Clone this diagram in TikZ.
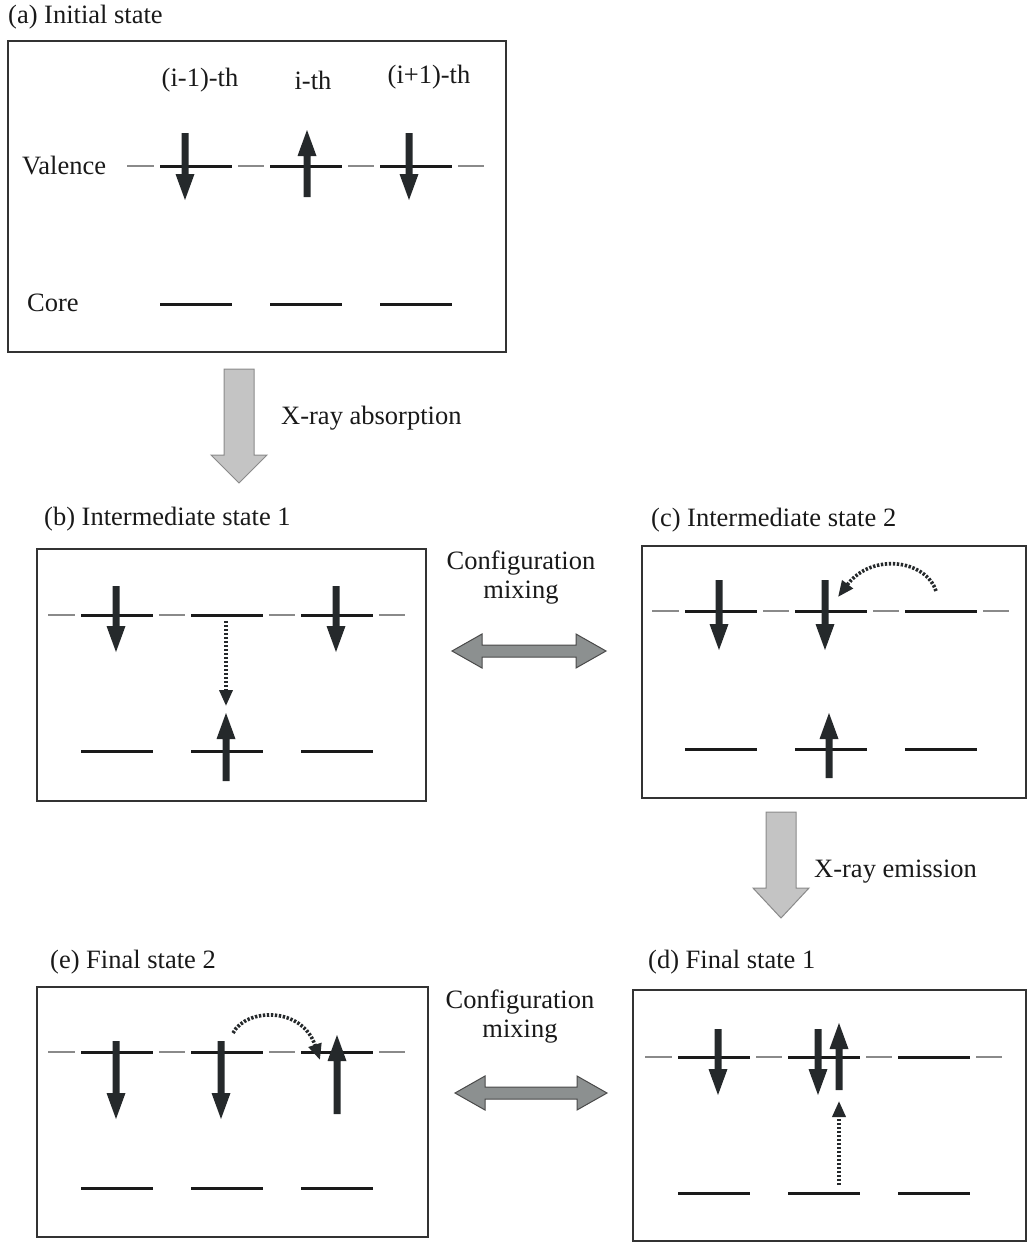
\documentclass[tikz,border=0pt]{standalone}
\usepackage{fontspec}
\setmainfont{Liberation Serif}
\newfontfamily\tnr{Liberation Serif}
\usetikzlibrary{arrows.meta}
\definecolor{spinc}{HTML}{25292B}
\definecolor{levc}{HTML}{1A1A1A}
\definecolor{dashc}{HTML}{8A8A8A}
\definecolor{boxc}{HTML}{333333}
\definecolor{lightblk}{HTML}{C4C4C4}
\definecolor{lightbdr}{HTML}{8A8A8A}
\definecolor{darkblk}{HTML}{8C9090}
\definecolor{darkbdr}{HTML}{4A4A4A}
\tikzset{
  gdash/.style={draw=dashc, line width=1.3pt},
  lev/.style={draw=levc, line width=3pt},
  panel/.style={draw=boxc, line width=1.3pt},
  hop/.style={draw=spinc, line width=3.6pt, dash pattern=on 2.4pt off 1.6pt, -{Triangle[length=16pt,width=13pt]}},
  title/.style={anchor=west},
}
\newcommand\spindown[3]{\fill[spinc] (#1-3.5,#2) -- (#1+3.5,#2) -- (#1+3.5,#3-26) -- (#1+9.5,#3-26) -- (#1,#3) -- (#1-9.5,#3-26) -- (#1-3.5,#3-26) -- cycle;}
\newcommand\spinup[3]{\fill[spinc] (#1-3.5,#2) -- (#1+3.5,#2) -- (#1+3.5,#3+26) -- (#1+9.5,#3+26) -- (#1,#3) -- (#1-9.5,#3+26) -- (#1-3.5,#3+26) -- cycle;}
\newcommand\valrow[2]{%
  \draw[gdash] (#1,#2) -- (#1+27,#2);
  \draw[lev] (#1+33,#2) -- (#1+105,#2);
  \draw[gdash] (#1+111,#2) -- (#1+137,#2);
  \draw[lev] (#1+143,#2) -- (#1+215,#2);
  \draw[gdash] (#1+221,#2) -- (#1+247,#2);
  \draw[lev] (#1+253,#2) -- (#1+325,#2);
  \draw[gdash] (#1+331,#2) -- (#1+357,#2);}
\newcommand\corerow[2]{%
  \draw[lev] (#1+33,#2) -- (#1+105,#2);
  \draw[lev] (#1+143,#2) -- (#1+215,#2);
  \draw[lev] (#1+253,#2) -- (#1+325,#2);}
\newcommand\blockdown[4]{% cx, top, base, tip
  \filldraw[fill=lightblk, draw=lightbdr, line width=1pt]
    (#1-15,#2) -- (#1+15,#2) -- (#1+15,#3) -- (#1+28,#3) -- (#1,#4) -- (#1-28,#3) -- (#1-15,#3) -- cycle;}
\newcommand\dblarrow[3]{% xl, xr, y
  \filldraw[fill=darkblk, draw=darkbdr, line width=1pt]
    (#1,#3) -- (#1+30,#3-17) -- (#1+30,#3-6) -- (#2-30,#3-6) -- (#2-30,#3-17) -- (#2,#3)
    -- (#2-30,#3+17) -- (#2-30,#3+6) -- (#1+30,#3+6) -- (#1+30,#3+17) -- cycle;}
\begin{document}
\begin{tikzpicture}[x=1pt,y=-1pt,
  every node/.style={font=\tnr\fontsize{26.5}{31}\selectfont, inner sep=0pt, text=black!90}]
\useasboundingbox (0,0) rectangle (1029,1247);

% ---------------- (a) Initial state
\node[title] (ta) at (8,17) {(a) Initial state};
\draw[panel] (8,41) rectangle (506,352);
\node (c1) at (200,80) {(i-1)-th};
\node (c2) at (313,80) {i-th};
\node (c3) at (429,77) {(i+1)-th};
\node[anchor=west] (lv) at (22,166) {Valence};
\node[anchor=west] (lc) at (27,303) {Core};
\valrow{127}{166}
\corerow{127}{304}
\spindown{185}{133}{200}
\spinup{307}{197}{130}
\spindown{409}{133}{200}

% arrow a -> b
\blockdown{239}{369}{455}{483}
\node[anchor=west] (xa) at (281,418) {X-ray absorption};

% ---------------- (b) Intermediate state 1
\node[title] (tb) at (44,519) {(b) Intermediate state 1};
\draw[panel] (37,549) rectangle (426,801);
\valrow{48}{615}
\corerow{48}{751}
\spindown{116}{586}{652}
\spindown{336}{586}{652}
\spinup{226}{781}{713}
\coordinate (b1) at (226,621);
\coordinate (b2) at (226,706);
\draw[hop] (b1) -- (b2);

% config mixing 1
\node (cm1) at (521,563) {Configuration};
\node (mx1) at (521,593) {mixing};
\dblarrow{452}{606}{651}

% ---------------- (c) Intermediate state 2
\node[title] (tc) at (651,520) {(c) Intermediate state 2};
\draw[panel] (642,546) rectangle (1026,798);
\valrow{652}{611}
\corerow{652}{749}
\spindown{719}{580}{650}
\spindown{825}{580}{650}
\spinup{829}{778}{713}
\coordinate (c1s) at (936,591);
\coordinate (c1e) at (838,597);
\draw[hop] (c1s) .. controls (926,560) and (872,552) .. (c1e);

% arrow c -> d
\blockdown{781}{812}{888}{918}
\node[anchor=west] (xe) at (814,872) {X-ray emission};

% ---------------- (e) Final state 2
\node[title] (te) at (50,962) {(e) Final state 2};
\draw[panel] (37,987) rectangle (428,1237);
\valrow{48}{1052}
\corerow{48}{1188}
\spindown{116}{1041}{1119}
\spindown{221}{1041}{1119}
\spinup{337}{1114}{1035}
\coordinate (e1s) at (233,1033);
\coordinate (e1e) at (320,1060);
\draw[hop] (e1s) .. controls (246,1008) and (302,1006) .. (e1e);

% config mixing 2
\node (cm2) at (520,1002) {Configuration};
\node (mx2) at (520,1032) {mixing};
\dblarrow{455}{607}{1093}

% ---------------- (d) Final state 1
\node[title] (td) at (648,962) {(d) Final state 1};
\draw[panel] (633,990) rectangle (1026,1241);
\valrow{645}{1057}
\corerow{645}{1193}
\spindown{718}{1029}{1095}
\spindown{818}{1029}{1095}
\spinup{839}{1090}{1023}
\coordinate (d1s) at (839,1185);
\coordinate (d1e) at (839,1101);
\draw[hop] (d1s) -- (d1e);
\end{tikzpicture}
\end{document}
